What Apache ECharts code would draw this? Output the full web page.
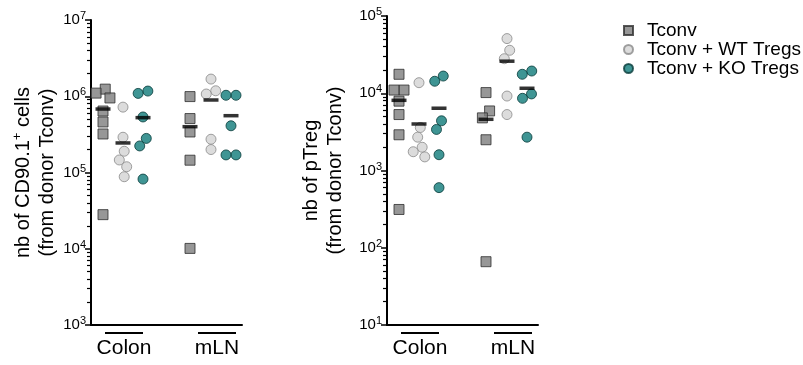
<!DOCTYPE html>
<html><head><meta charset="utf-8">
<script src="https://cdn.jsdelivr.net/npm/echarts@6/dist/echarts.min.js"></script>
<style>html,body{margin:0;padding:0;background:#fff}#c{width:803px;height:365px}</style>
</head><body><div id="c"></div>
<script>
// ---------- data ----------
const groups = ['Colon', 'mLN'];
const seriesNames = ['Tconv', 'Tconv + WT Tregs', 'Tconv + KO Tregs'];

// Panel 1: nb of CD90.1+ cells (from donor Tconv)
const cdColonTconv = [1.24e6, 1.10e6, 9.5e5, 6.4e5, 4.6e5, 3.2e5, 2.8e4];
const cdColonWT    = [7.2e5, 2.9e5, 1.9e5, 1.46e5, 1.19e5, 8.8e4];
const cdColonKO    = [1.17e6, 1.09e6, 5.35e5, 2.8e5, 2.23e5, 8.2e4];
const cdMlnTconv   = [9.9e5, 5.1e5, 3.4e5, 1.45e5, 1.01e4];
const cdMlnWT      = [1.68e6, 1.18e6, 1.07e6, 2.73e5, 2.0e5];
const cdMlnKO      = [1.03e6, 1.03e6, 4.1e5, 1.7e5, 1.7e5];
const cdMeanColon  = [6.8e5, 2.44e5, 5.24e5];
const cdMeanMln    = [3.99e5, 8.93e5, 5.56e5];

// Panel 2: nb of pTreg (from donor Tconv)
const pColonTconv = [1.76e4, 1.1e4, 1.1e4, 7.9e3, 5.3e3, 2.9e3, 313];
const pColonWT    = [1.37e4, 3.6e3, 2.7e3, 2.0e3, 1.75e3, 1.5e3];
const pColonKO    = [1.67e4, 1.43e4, 4.4e3, 3.4e3, 1.6e3, 600];
const pMlnTconv   = [1.02e4, 5.9e3, 4.8e3, 2.5e3, 66];
const pMlnWT      = [5.1e4, 3.6e4, 2.8e4, 9.2e3, 5.3e3];
const pMlnKO      = [1.94e4, 1.76e4, 9.8e3, 8.6e3, 2.7e3];
const pMeanColon  = [8.1e3, 4.0e3, 6.4e3];
const pMeanMln    = [4.6e3, 2.6e4, 1.16e4];

// ---------- layout / style ----------
const FONT = "'Liberation Sans', Arial, Helvetica, sans-serif";
const xCenters = [[0.6, 1.6, 2.6], [4.95, 6.0, 7.0]];
const labelPos = [1.65, 6.3];
const layout = [
  {left: 91, top: 20, width: 151, height: 305, nameGap: 30},
  {left: 387, top: 16, width: 151, height: 309, nameGap: 40}
];
const panels = [
  {min: 1e3, max: 1e7,
   title: '{a|nb of CD90.1}{s|+}{a| cells}\n{a|(from donor Tconv)}',
   sets: [[cdColonTconv, cdColonWT, cdColonKO], [cdMlnTconv, cdMlnWT, cdMlnKO]],
   means: [cdMeanColon, cdMeanMln]},
  {min: 10, max: 1e5,
   title: '{a|nb of pTreg}\n{a|(from donor Tconv)}',
   sets: [[pColonTconv, pColonWT, pColonKO], [pMlnTconv, pMlnWT, pMlnKO]],
   means: [pMeanColon, pMeanMln]}
];
const styles = [
  {symbol: 'rect', color: '#7d7d7d', border: '#2e2e2e'},
  {symbol: 'circle', color: '#d3d3d3', border: '#8a8a8a'},
  {symbol: 'circle', color: '#0f7b79', border: '#073b3a'}
];

function minorTicks(min, max) {
  const out = [];
  for (let e = Math.round(Math.log10(min)); e < Math.round(Math.log10(max)); e++) {
    for (let m = 2; m <= 9; m++) out.push(m * Math.pow(10, e));
  }
  return out;
}

const chart = echarts.init(document.getElementById('c'));

const yAxes = [];
panels.forEach((p, i) => {
  yAxes.push({
    gridIndex: i, type: 'log', logBase: 10, min: p.min, max: p.max, position: 'left',
    axisLine: {show: true, onZero: false, lineStyle: {color: '#000', width: 2}},
    axisTick: {show: true, length: 6, lineStyle: {color: '#000', width: 1.5}},
    splitLine: {show: false},
    axisLabel: {
      margin: 5, color: '#000',
      formatter: v => '{b|10}{s|' + Math.round(Math.log10(v)) + '}',
      rich: {
        b: {fontSize: 15, lineHeight: 19, fontFamily: FONT, color: '#000'},
        s: {fontSize: 11, verticalAlign: 'top', fontFamily: FONT, color: '#000'}
      }
    },
    name: p.title, nameLocation: 'middle', nameGap: layout[i].nameGap,
    nameTextStyle: {
      fontFamily: FONT, fontSize: 20, lineHeight: 24, color: '#000',
      rich: {
        a: {fontSize: 20, lineHeight: 24, fontFamily: FONT, color: '#000'},
        s: {fontSize: 13, verticalAlign: 'top', fontFamily: FONT, color: '#000'}
      }
    }
  });
  yAxes.push({
    gridIndex: i, type: 'log', logBase: 10, min: p.min, max: p.max, position: 'left',
    axisLine: {show: false, onZero: false},
    axisLabel: {show: false},
    splitLine: {show: false},
    axisTick: {show: true, length: 4, customValues: minorTicks(p.min, p.max),
               lineStyle: {color: '#000', width: 1.2}}
  });
});

const baseOption = {
  animation: false,
  backgroundColor: '#fff',
  grid: layout.map(l => ({left: l.left, top: l.top, width: l.width, height: l.height})),
  xAxis: [0, 1].map(i => ({
    gridIndex: i, type: 'value', min: 0, max: 7.55,
    axisLine: {show: true, onZero: false, lineStyle: {color: '#000', width: 2}},
    axisTick: {show: false}, splitLine: {show: false},
    axisLabel: {show: true, customValues: labelPos, formatter: v => groups[v < 4 ? 0 : 1],
                margin: 13, color: '#000', fontSize: 21, fontFamily: FONT}
  })),
  yAxis: yAxes
};
chart.setOption(baseOption);

// beeswarm spreading of overlapping symbols (pixel space)
function swarm(pys, d) {
  const placed = [];
  pys.forEach((y, idx) => {
    const cands = [0];
    placed.forEach(p => {
      const dy = Math.abs(y - p.y);
      if (dy < d) { const w = Math.sqrt(d * d - dy * dy); cands.push(p.dx - w, p.dx + w); }
    });
    const ok = cands.filter(c => placed.every(p => {
      const dy = Math.abs(y - p.y);
      if (dy >= d) return true;
      return Math.abs(c - p.dx) >= Math.sqrt(d * d - dy * dy) - 1e-6;
    }));
    ok.sort((a, b) => Math.abs(a) - Math.abs(b) || a - b);
    placed.push({y: y, dx: ok.length ? ok[0] : 0, idx: idx});
  });
  const sorted = placed.slice().sort((a, b) => a.y - b.y);
  let chain = [sorted[0]];
  const flush = () => {
    const lo = Math.min(...chain.map(c => c.dx)), hi = Math.max(...chain.map(c => c.dx));
    const mid = (lo + hi) / 2;
    chain.forEach(c => c.dx -= mid);
  };
  for (let j = 1; j < sorted.length; j++) {
    if (sorted[j].y - sorted[j - 1].y < d) chain.push(sorted[j]);
    else { flush(); chain = [sorted[j]]; }
  }
  flush();
  const res = new Array(pys.length);
  placed.forEach(p => res[p.idx] = isFinite(p.dx) ? p.dx : 0);
  return res;
}

const series = [];
const graphics = [];
panels.forEach((p, i) => {
  const yIdx = 2 * i;
  const ppu = chart.convertToPixel({xAxisIndex: i}, 1) - chart.convertToPixel({xAxisIndex: i}, 0);
  styles.forEach((s, k) => {
    const data = [];
    p.sets.forEach((grp, g) => {
      const values = grp[k];
      const pys = values.map(v => chart.convertToPixel({yAxisIndex: yIdx}, v));
      const dxs = swarm(pys, 10);
      values.forEach((v, j) => data.push([xCenters[g][k] + dxs[j] / ppu, v]));
    });
    series.push({
      type: 'scatter', name: seriesNames[k], xAxisIndex: i, yAxisIndex: yIdx,
      symbol: s.symbol, symbolSize: 10, z: 2,
      itemStyle: {color: s.color, borderColor: s.border, borderWidth: 1},
      data: data
    });
  });
  const meanData = [];
  p.means.forEach((arr, g) => arr.forEach((v, k) => meanData.push([xCenters[g][k], v])));
  series.push({
    type: 'scatter', name: 'mean', xAxisIndex: i, yAxisIndex: yIdx,
    symbol: 'rect', symbolSize: [15, 3.5], z: 5,
    itemStyle: {color: '#000'}, data: meanData
  });

  const axisY = chart.convertToPixel({yAxisIndex: yIdx}, p.min);
  labelPos.forEach(lp => {
    const cx = chart.convertToPixel({xAxisIndex: i}, lp);
    graphics.push({type: 'line', shape: {x1: cx - 19, y1: axisY + 8, x2: cx + 19, y2: axisY + 8},
                   style: {stroke: '#000', lineWidth: 2}, silent: true});
  });
});

const fullOption = Object.assign({}, baseOption, {
  legend: {
    data: seriesNames, orient: 'vertical', left: 623, top: 21, padding: 0,
    itemWidth: 9, itemHeight: 9, itemGap: 0,
    textStyle: {fontFamily: FONT, fontSize: 19, lineHeight: 19, color: '#000', padding: [0, 0, 0, 9]}
  },
  series: series,
  graphic: graphics
});
chart.setOption(fullOption, true);
</script>
</body></html>
